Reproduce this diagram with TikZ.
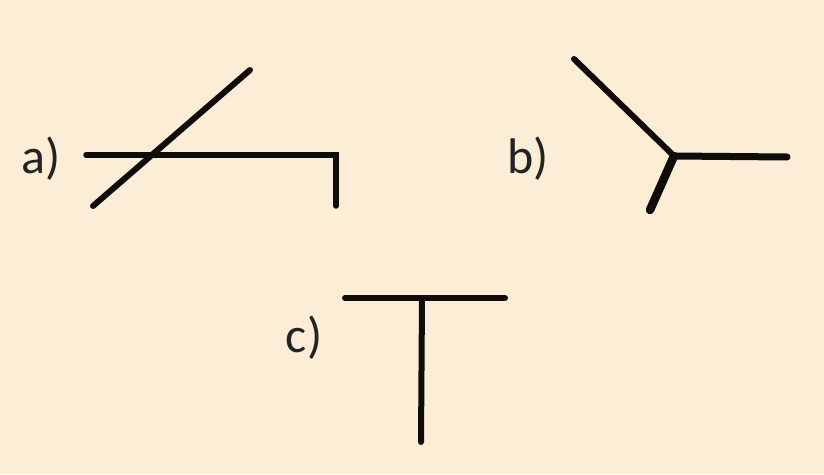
\documentclass[tikz,border=0pt]{standalone}
\usepackage{fontspec}
\setmainfont{Carlito}
\definecolor{bgcream}{RGB}{251,237,214}
\definecolor{inkline}{RGB}{15,12,10}
\definecolor{inktext}{RGB}{35,35,35}
\begin{document}
\begin{tikzpicture}[x=1pt,y=-1pt,
  stroke/.style={draw=inkline,line width=5.5pt,line cap=round},
  thick stroke/.style={draw=inkline,line width=7pt,line cap=round},
  heavy stroke/.style={draw=inkline,line width=8.5pt,line cap=round},
  lbl/.style={text=inktext,inner sep=0pt,font=\fontsize{50}{56}\selectfont}]
\fill[bgcream] (0,0) rectangle (824,474);
\useasboundingbox (0,0) rectangle (824,474);
% a)
\node[lbl] (la) at (41,159) {a)};
\coordinate (a1) at (86,155);
\coordinate (a2) at (336,155);
\coordinate (a3) at (336,206);
\coordinate (a4) at (93,206);
\coordinate (a5) at (250,70);
\draw[stroke,line join=miter] (a1) -- (a2) -- (a3);
\draw[stroke,line width=6pt] (a4) -- (a5);
% b)
\node[lbl] (lb) at (528,159) {b)};
\coordinate (bj) at (674,156);
\coordinate (b1) at (574,59);
\coordinate (b2) at (787,157);
\coordinate (b3) at (650,210);
\draw[stroke,line width=6pt] (b1) -- (bj);
\draw[thick stroke] (bj) -- (b2);
\draw[heavy stroke] (bj) -- (b3);
% c)
\node[lbl] (lc) at (304,338) {c)};
\coordinate (c1) at (345,298);
\coordinate (c2) at (505,298);
\coordinate (cj) at (422,298);
\coordinate (c3) at (421,442);
\draw[stroke,line width=6pt] (c1) -- (c2);
\draw[stroke,line width=6pt] (cj) -- (c3);
\end{tikzpicture}
\end{document}
